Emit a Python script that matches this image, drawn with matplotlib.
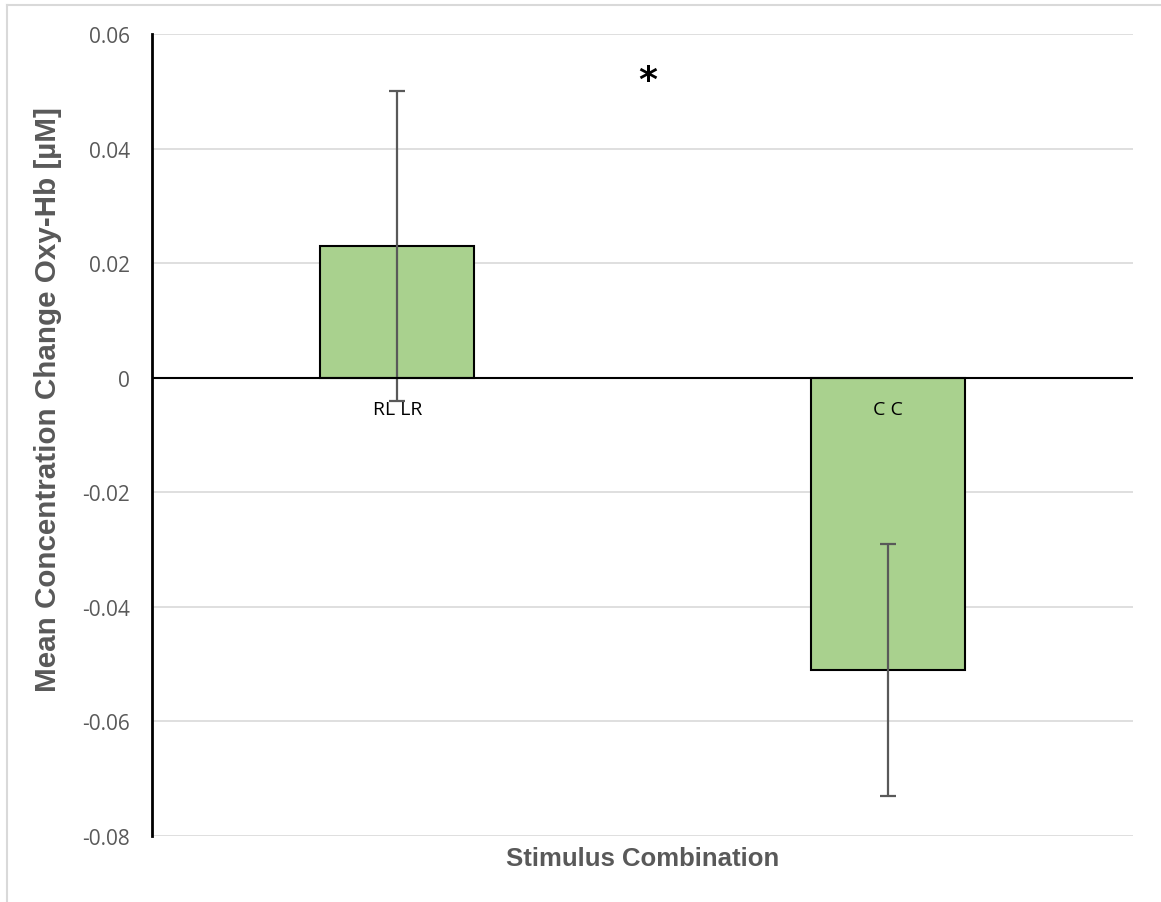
import matplotlib
matplotlib.use("Agg")
import matplotlib.pyplot as plt
from matplotlib.lines import Line2D
import numpy as np

# data
categories = ["RL LR", "C C"]
means = [0.023, -0.051]
errors = [0.027, 0.022]
yticks = [-0.08, -0.06, -0.04, -0.02, 0, 0.02, 0.04, 0.06]
ytick_labels = ["-0.08", "-0.06", "-0.04", "-0.02", "0", "0.02", "0.04", "0.06"]
star_pos = (0.51, 0.052)

BAR_COLOR = "#A9D18E"
GRID_COLOR = "#D9D9D9"
TEXT_GRAY = "#595959"

fig = plt.figure(figsize=(11.61, 9.03), dpi=100)
fig.set_facecolor("white")
ax = fig.add_axes([0.1309, 0.0731, 0.8450, 0.8881])

x = np.arange(len(categories))
ax.bar(x, means, width=0.314, color=BAR_COLOR, edgecolor="black", linewidth=1.5, zorder=3)
ax.errorbar(x, means, yerr=errors, fmt="none", ecolor=TEXT_GRAY, elinewidth=1.6,
            capsize=6, capthick=1.6, zorder=4)

ax.set_xlim(-0.5, 1.5)
ax.set_ylim(-0.08, 0.06)
ax.set_yticks(yticks)
ax.set_yticklabels(ytick_labels, fontfamily="Open Sans", fontsize=15, color=TEXT_GRAY)
ax.tick_params(axis="y", length=0, pad=16)
ax.set_xticks([])

ax.grid(axis="y", color=GRID_COLOR, linewidth=1.2, zorder=0)
ax.axhline(0, color="black", linewidth=1.5, zorder=5)
for side in ["top", "right", "bottom"]:
    ax.spines[side].set_visible(False)
ax.spines["left"].set_linewidth(2)
ax.spines["left"].set_zorder(6)

# category names just under the zero line
for xi, name in zip(x, categories):
    ax.text(xi, -0.0055, name, ha="center", va="center", fontfamily="Open Sans",
            fontsize=14, color="black", zorder=6)

ax.text(star_pos[0], star_pos[1], "*", ha="center", va="center", fontsize=26,
        fontweight="bold", fontfamily="DejaVu Sans", color="black")

ax.set_ylabel("Mean Concentration Change Oxy-Hb [µM]", fontfamily="Liberation Sans",
              fontsize=21.3, fontweight="bold", color=TEXT_GRAY)
ax.yaxis.set_label_coords(-0.092, 0.545)
ax.set_xlabel("Stimulus Combination", fontfamily="Liberation Sans", fontsize=18.5,
              fontweight="bold", color=TEXT_GRAY, labelpad=7)

# chart area border
fig.add_artist(Line2D([7 / 1161, 7 / 1161], [0, 1 - 6 / 903], transform=fig.transFigure,
                      color=GRID_COLOR, linewidth=1.5))
fig.add_artist(Line2D([7 / 1161, 1], [1 - 6 / 903, 1 - 6 / 903], transform=fig.transFigure,
                      color=GRID_COLOR, linewidth=1.5))

fig.savefig("out.png", dpi=100, facecolor="white")
